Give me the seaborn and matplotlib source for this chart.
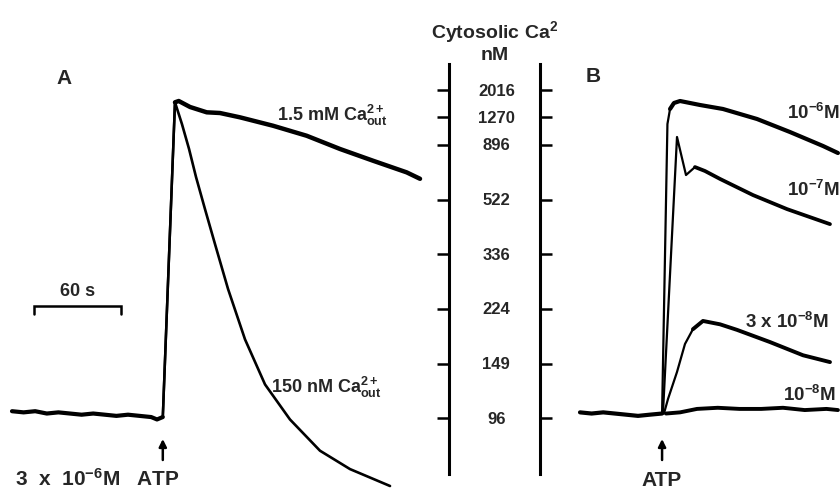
import numpy as np
import matplotlib
matplotlib.use("Agg")
import matplotlib.pyplot as plt
import seaborn as sns
from matplotlib.transforms import blended_transform_factory as blend
from matplotlib.ticker import NullLocator

# ---------------- data ----------------
KD_NM = 224.0                      # fura-2 calibration constant (nM)
ca_ticks = [96, 149, 224, 336, 522, 896, 1270, 2016]

# Panel A (time in s, cytosolic Ca2+ in nM)
atp_time_a = 104.0
t_base_a = [0, 8, 16, 24, 32, 40, 48, 56, 64, 72, 80, 88, 96, 100, 104]
ca_base_a = [102, 101, 102, 100, 101, 100, 99, 100, 99, 98, 99, 98, 97, 95, 97]

t_high_a = [104, 112.4, 115.0, 122.8, 134.3, 143.4, 157.2, 180.0, 203.2, 226.2, 249.0, 272.2, 281.4]
ca_high_a = [97, 1605, 1641, 1485, 1367, 1353, 1270, 1131, 996, 854, 753, 670, 630]

t_low_a = [104, 112.4, 117.2, 122.1, 126.9, 133.1, 140.0, 149.0, 160.7, 174.5, 191.7, 212.4, 233.1, 260.7]
ca_low_a = [97, 1605, 1157, 854, 641, 481, 363, 259, 179, 127, 95, 71, 58.5, 47.9]

scale_bar_s = 60
scale_bar_start = 15.2

# Panel B
atp_time_b = 56.6
t_base_b = [0, 8, 16, 24, 32, 40, 48, 56.6]
ca_base_b = [101, 100, 101, 100, 99, 98, 99, 100]

t_b_1e6 = [56.6, 60.3, 62.1, 64.8, 69.0, 75.9, 82.8, 98.6, 122.1, 144.8, 167.6, 177.9]
ca_b_1e6 = [100, 1157, 1439, 1586, 1641, 1586, 1534, 1439, 1240, 1043, 883, 817]

t_b_1e7 = [57.2, 66.9, 73.1, 79.3, 86.2, 96.6, 119.3, 142.8, 172.4]
ca_b_1e7 = [100, 981, 653, 706, 679, 629, 543, 481, 425]

t_b_3e8 = [57.9, 60.7, 66.9, 72.4, 77.9, 84.8, 96.6, 108.3, 131.0, 153.8, 172.4]
ca_b_3e8 = [100, 113, 140, 173, 193, 205, 200, 192, 175.5, 159, 151]

t_b_1e8 = [59.3, 69.0, 80.7, 95, 110, 125, 140, 155, 170, 177.9]
ca_b_1e8 = [100, 101, 104, 105, 104, 104, 105, 103, 104, 103]

label_high_a = r"1.5 mM $\mathrm{Ca}^{2+}_{\mathrm{out}}$"
label_low_a = r"150 nM $\mathrm{Ca}^{2+}_{\mathrm{out}}$"
labels_b = [r"10$^{-6}$M", r"10$^{-7}$M", r"3 x 10$^{-8}$M", r"10$^{-8}$M"]

# ---------------- style ----------------
sns.set_style("white")
plt.rcParams['font.family'] = ['Liberation Sans', 'DejaVu Sans']
plt.rcParams['font.weight'] = 'bold'
plt.rcParams['mathtext.fontset'] = 'custom'
for k in ('rm', 'it', 'bf', 'sf'):
    plt.rcParams['mathtext.' + k] = 'Liberation Sans:bold'

W, H = 840, 489
fig = plt.figure(figsize=(W / 100, H / 100), dpi=100)
fig.patch.set_facecolor('white')


def fwd(c):
    c = np.asarray(c, dtype=float)
    return -KD_NM / (np.maximum(c, 1e-6) + KD_NM)


def inv(v):
    v = np.asarray(v, dtype=float)
    v = np.minimum(v, -1e-9)
    return -KD_NM / v - KD_NM


YLIM = (46.7, 4946)
ax_h = 429 / H
axA = fig.add_axes([0, 0, 430 / W, ax_h])
axM = fig.add_axes([449 / W, 0, 91 / W, ax_h])
axB = fig.add_axes([570 / W, 0, 270 / W, ax_h])

for ax in (axA, axM, axB):
    ax.set_yscale('function', functions=(fwd, inv))
    ax.set_ylim(*YLIM)
    ax.set_facecolor('none')
    ax.yaxis.set_minor_locator(NullLocator())
    ax.xaxis.set_minor_locator(NullLocator())

axA.set_xlim(-12 / 1.45, 418 / 1.45)
axB.set_xlim(-10 / 1.45, 260 / 1.45)


def trace(ax, t, c, split, lw_thin, lw_thick):
    kw = dict(ax=ax, color='black', estimator=None, sort=False, legend=False)
    if split > 0:
        sns.lineplot(x=t[:split + 1], y=c[:split + 1], linewidth=lw_thin, **kw)
    sns.lineplot(x=t[split:], y=c[split:], linewidth=lw_thick, **kw)


# Panel A traces
trace(axA, t_base_a, ca_base_a, 0, 3.0, 3.0)
trace(axA, t_low_a, ca_low_a, 1, 1.8, 1.9)
trace(axA, t_high_a, ca_high_a, 1, 1.8, 3.2)

# Panel B traces
trace(axB, t_base_b, ca_base_b, 0, 3.0, 3.0)
trace(axB, t_b_1e8, ca_b_1e8, 0, 2.8, 2.8)
trace(axB, t_b_3e8, ca_b_3e8, 4, 1.6, 2.8)
trace(axB, t_b_1e7, ca_b_1e7, 3, 1.6, 2.7)
trace(axB, t_b_1e6, ca_b_1e6, 2, 1.6, 3.0)

for ax in (axA, axB):
    for s in ax.spines.values():
        s.set_visible(False)
    ax.set_xticks([])
    ax.set_yticks([])
    ax.set_xlabel('')
    ax.set_ylabel('')

# middle calibration scale
for s in ('top', 'bottom'):
    axM.spines[s].set_visible(False)
for s in ('left', 'right'):
    axM.spines[s].set_visible(True)
    axM.spines[s].set_linewidth(2.2)
    axM.spines[s].set_color('black')
    axM.spines[s].set_bounds(55.3, 4040)
axM.set_xticks([])
axM.set_yticks(ca_ticks)
axM.set_yticklabels([])
axM.tick_params(axis='y', which='major', direction='out', length=8.6, width=1.8,
                left=True, right=True, labelleft=False, labelright=False, color='black')
trM = blend(axM.transAxes, axM.transData)
for v in ca_ticks:
    axM.text(0.52, v, str(v), transform=trM, ha='center', va='center',
             fontsize=12, fontweight='bold')

fig.text(495 / W, 1 - 38 / H, r"Cytosolic Ca$^{2}$", ha='center', va='baseline',
         fontsize=14, fontweight='bold')
fig.text(495 / W, 1 - 60 / H, "nM", ha='center', va='baseline',
         fontsize=14, fontweight='bold')

# panel letters
fig.text(64 / W, 1 - 79 / H, "A", ha='center', va='center', fontsize=15, fontweight='bold')
fig.text(593 / W, 1 - 77 / H, "B", ha='center', va='center', fontsize=15, fontweight='bold')

# labels in A
axA.text(182.8, 1333, label_high_a, ha='left', va='center', fontsize=13, fontweight='bold')
axA.text(178.6, 125, label_low_a, ha='left', va='center', fontsize=13, fontweight='bold')

# labels in B
b_label_pos = [(142.8, 1373), (142.8, 573), (113.8, 205), (140.0, 118)]
for (x, y), lab in zip(b_label_pos, labels_b):
    axB.text(x, y, lab, ha='left', va='center', fontsize=13.5, fontweight='bold')


def frac(py):
    return (H - py) / 429


# ATP arrows and text
for ax, t_atp in ((axA, atp_time_a), (axB, atp_time_b)):
    tr = blend(ax.transData, ax.transAxes)
    ax.annotate('', xy=(t_atp, frac(440)), xytext=(t_atp, frac(461)),
                xycoords=tr, textcoords=tr,
                arrowprops=dict(arrowstyle='-|>', lw=1.8, color='black',
                                mutation_scale=11, shrinkA=0, shrinkB=0))
trA = blend(axA.transData, axA.transAxes)
trB = blend(axB.transData, axB.transAxes)
axA.text(2, frac(486), r"3  x  10$^{-6}$M   ATP", transform=trA, ha='left', va='baseline',
         fontsize=15, fontweight='bold')
axB.text(atp_time_b, frac(486), "ATP", transform=trB, ha='center', va='baseline',
         fontsize=15, fontweight='bold')

# 60 s scale bar
x0, x1 = scale_bar_start, scale_bar_start + scale_bar_s
axA.plot([x0, x0, x1, x1], [frac(315), frac(307), frac(307), frac(315)],
         transform=trA, color='black', lw=1.8, solid_joinstyle='miter')
axA.text((x0 + x1) / 2, frac(292), f"{scale_bar_s} s", transform=trA, ha='center',
         va='center', fontsize=13, fontweight='bold')

fig.savefig("out.png", dpi=100)
